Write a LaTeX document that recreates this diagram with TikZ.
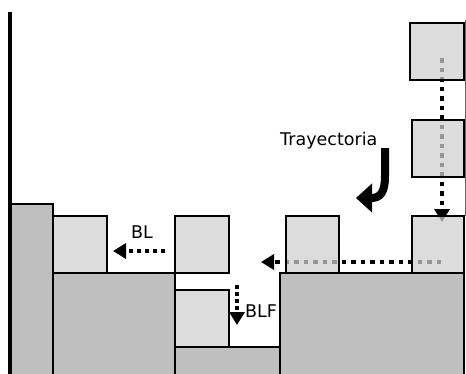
\documentclass[tikz,border=0pt]{standalone}
\usepackage{fontspec}
\setmainfont{DejaVu Sans}
\usetikzlibrary{arrows.meta}
\tikzset{
  block/.style={fill=black!25, draw=black, line width=2.6pt},
  piece/.style={draw=black, line width=2.6pt, fill=black!19, fill opacity=0.72, text opacity=1,
                inner sep=0pt, outer sep=0pt, anchor=north west},
  route/.style={line width=4.5pt, dash pattern=on 4.5pt off 5pt,
                -{Triangle[length=13pt,width=15pt]}},
  lbl/.style={font=\fontsize{17.5}{21}\selectfont, inner sep=0pt, anchor=base west},
}
\begin{document}
\begin{tikzpicture}[x=1pt,y=-1pt]
\useasboundingbox (0,0) rectangle (466,373);
% blocks
\filldraw[block] (10,385) |- (53,204) -- (53,385);
\filldraw[block] (53,385) |- (175,273) -- (175,385);
\filldraw[block] (175,385) |- (280,347) -- (280,385);
\filldraw[block] (280,385) |- (464,273) -- (464,385);
\draw[line width=3.2pt] (10,12) -- (10,385);
\draw[line width=0.6pt, black!60] (465,20) -- (465,216);
% route coordinates
\coordinate (vS) at (442,58);
\coordinate (vE) at (442,222);
\coordinate (hS) at (441,262);
\coordinate (hE) at (261,262);
\coordinate (blS) at (165,251);
\coordinate (blE) at (113,251);
\coordinate (bfS) at (237,285);
\coordinate (bfE) at (237,325);
% dotted routes (drawn under pieces)
\draw[route] (vS) -- (vE);
\draw[route] (hS) -- (hE);
% pieces
\node[piece, minimum width=54pt, minimum height=57pt] (pA) at (53,216) {};
\node[piece, minimum width=54pt, minimum height=57pt] (pB) at (175,216) {};
\node[piece, minimum width=54pt, minimum height=57pt] (pC) at (175,290) {};
\node[piece, minimum width=53pt, minimum height=57pt] (pD) at (286,216) {};
\node[piece, minimum width=52pt, minimum height=57pt] (pE) at (412,216) {};
\node[piece, minimum width=54pt, minimum height=57pt] (pF) at (410,23) {};
\node[piece, minimum width=52pt, minimum height=57pt] (pG) at (412,120) {};
% short moves
\draw[route, dash pattern=on 4pt off 4pt] (blS) -- (blE);
\draw[route, dash pattern=on 4pt off 3pt] (bfS) -- (bfE);
% labels
\node[lbl] (tBL) at (131,238) {BL};
\node[lbl] (tBLF) at (245,317) {BLF};
\node[lbl] (tTr) at (280,145) {Trayectoria};
% curved trajectory arrow
\coordinate (cS) at (385,148);
\coordinate (cE) at (356,198);
\draw[line width=8pt, -{Triangle[length=16pt,width=28pt]}]
  (cS) -- (385,176) .. controls (385,193) and (380,198) .. (cE);
\end{tikzpicture}
\end{document}
